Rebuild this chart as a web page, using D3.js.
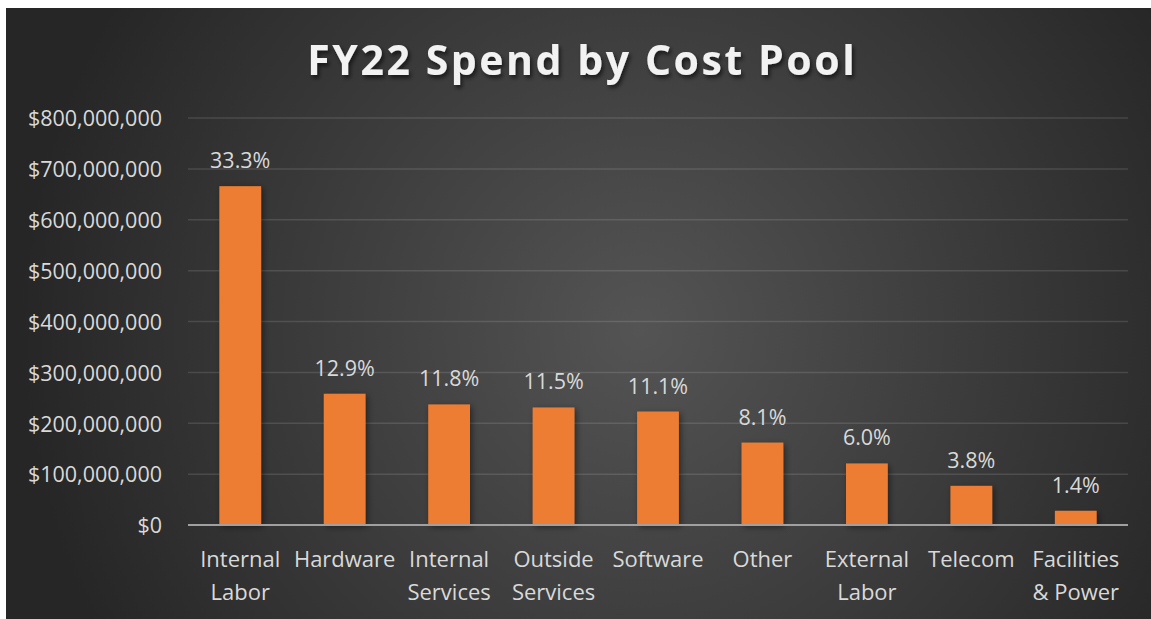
<!DOCTYPE html>
<html>
<head>
<meta charset="utf-8">
<script src="https://cdn.jsdelivr.net/npm/d3@7"></script>
<style>
  html, body { margin: 0; padding: 0; background: #ffffff; }
  svg { display: block; }
</style>
</head>
<body>
<svg id="chart" width="1151" height="619"></svg>
<script>
const categories = ["Internal Labor", "Hardware", "Internal Services", "Outside Services", "Software", "Other", "External Labor", "Telecom", "Facilities & Power"];
const categoryLines = [["Internal", "Labor"], ["Hardware"], ["Internal", "Services"], ["Outside", "Services"], ["Software"], ["Other"], ["External", "Labor"], ["Telecom"], ["Facilities", "& Power"]];
const spend = [666000000, 258000000, 237000000, 231000000, 223000000, 162000000, 121000000, 77000000, 28000000];
const shareLabels = ["33.3%", "12.9%", "11.8%", "11.5%", "11.1%", "8.1%", "6.0%", "3.8%", "1.4%"];
const yTicks = [0, 100000000, 200000000, 300000000, 400000000, 500000000, 600000000, 700000000, 800000000];
const title = "FY22 Spend by Cost Pool";

const svg = d3.select("#chart");
const W = 1151, H = 619;
const defs = svg.append("defs");

const grad = defs.append("radialGradient").attr("id", "bg")
  .attr("gradientUnits", "userSpaceOnUse")
  .attr("cx", 640).attr("cy", 330).attr("r", 620);
grad.append("stop").attr("offset", "0%").attr("stop-color", "#545454");
grad.append("stop").attr("offset", "100%").attr("stop-color", "#262626");

const sh = defs.append("filter").attr("id", "barShadow").attr("x", "-30%").attr("y", "-10%").attr("width", "160%").attr("height", "130%");
sh.append("feDropShadow").attr("dx", 2).attr("dy", 2).attr("stdDeviation", 3).attr("flood-color", "#000").attr("flood-opacity", 0.45);

const tsh = defs.append("filter").attr("id", "titleShadow").attr("x", "-5%").attr("y", "-20%").attr("width", "110%").attr("height", "150%");
tsh.append("feDropShadow").attr("dx", 2).attr("dy", 3).attr("stdDeviation", 2).attr("flood-color", "#000").attr("flood-opacity", 0.6);

svg.append("rect").attr("x", 6).attr("y", 8).attr("width", W - 6).attr("height", H - 8).attr("fill", "url(#bg)");

const x = d3.scaleBand().domain(categories).range([188, 1128]).paddingInner(0.6).paddingOuter(0.3);
const y = d3.scaleLinear().domain([0, 800000000]).range([525, 118]);

// gridlines
svg.append("g").selectAll("line").data(yTicks.filter(d => d > 0)).join("line")
  .attr("x1", 188).attr("x2", 1128)
  .attr("y1", d => y(d)).attr("y2", d => y(d))
  .attr("stroke", "#ffffff").attr("stroke-opacity", 0.12).attr("stroke-width", 1.5);

// y axis
const fmt = d => "$" + d3.format(",")(d);
const yAxis = svg.append("g").attr("transform", "translate(188,0)")
  .call(d3.axisLeft(y).tickValues(yTicks).tickFormat(fmt).tickSize(0).tickPadding(26));
yAxis.select(".domain").remove();
yAxis.selectAll("text")
  .attr("fill", "#d9d9d9").attr("font-family", "'Open Sans', sans-serif").attr("font-size", 21.5)
  .attr("dy", "0.36em");

// bars
svg.append("g").selectAll("rect").data(categories).join("rect")
  .attr("x", d => x(d)).attr("width", x.bandwidth())
  .attr("y", (d, i) => y(spend[i])).attr("height", (d, i) => y(0) - y(spend[i]))
  .attr("fill", "#ED7D31").attr("filter", "url(#barShadow)");

// baseline
svg.append("line").attr("x1", 188).attr("x2", 1128).attr("y1", y(0)).attr("y2", y(0))
  .attr("stroke", "#a0a0a0").attr("stroke-width", 2);

// value labels
svg.append("g").selectAll("text").data(categories).join("text")
  .attr("x", d => x(d) + x.bandwidth() / 2)
  .attr("y", (d, i) => y(spend[i]) - 18)
  .attr("text-anchor", "middle")
  .attr("fill", "#d9d9d9").attr("font-family", "'Open Sans', sans-serif").attr("font-size", 21.5)
  .text((d, i) => shareLabels[i]);

// category labels
const xAxis = svg.append("g").attr("transform", `translate(0,${y(0)})`)
  .call(d3.axisBottom(x).tickSize(0).tickFormat(""));
xAxis.select(".domain").remove();
xAxis.selectAll(".tick").each(function(d, i) {
  const t = d3.select(this).append("text")
    .attr("text-anchor", "middle")
    .attr("fill", "#d9d9d9").attr("font-family", "'Open Sans', sans-serif").attr("font-size", 22);
  categoryLines[i].forEach((ln, k) => {
    t.append("tspan").attr("x", 0).attr("y", 42 + k * 33).text(ln);
  });
});

// title
const tt = svg.append("text")
  .attr("x", 581).attr("y", 75)
  .attr("text-anchor", "middle")
  .attr("fill", "#f2f2f2").attr("font-family", "'Open Sans', sans-serif").attr("font-weight", 700)
  .attr("font-size", 41).attr("letter-spacing", 2)
  .attr("filter", "url(#titleShadow)")
  .text(title);
const len = tt.node().getComputedTextLength();
const target = 550;
const ls = 2 + (target - len) / (title.length);
tt.attr("letter-spacing", Math.max(0, ls)).attr("x", 581 + Math.max(0, ls) / 2);
</script>
</body>
</html>
